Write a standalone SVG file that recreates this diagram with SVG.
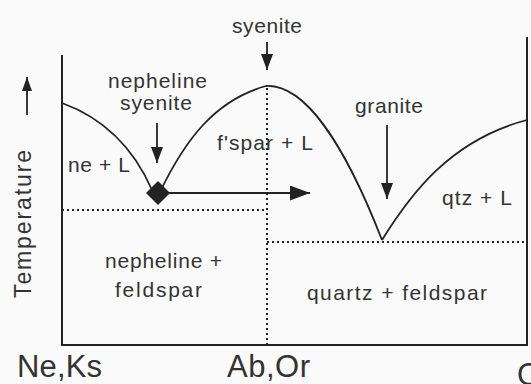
<svg xmlns="http://www.w3.org/2000/svg" width="531" height="384" viewBox="0 0 531 384">
  <style>
    .t { font-family: "Liberation Sans", Arial, sans-serif; fill: #333; }
    .m { font-size: 21px; }
    .b { font-size: 31px; }
    .ax { stroke: #222; stroke-width: 2; fill: none; }
    .cv { stroke: #222; stroke-width: 1.8; fill: none; }
    .dot { stroke: #222; stroke-width: 2; stroke-dasharray: 2 3; fill: none; }
    .ar { stroke: #222; stroke-width: 1.8; fill: none; }
  </style>
  <defs>
    <marker id="head" viewBox="0 0 16 12" refX="16" refY="6" markerWidth="16" markerHeight="12" markerUnits="userSpaceOnUse" orient="auto">
      <path d="M0,0 L16,6 L0,12 z" fill="#222"/>
    </marker>
    <marker id="bighead" viewBox="0 0 20 15" refX="20" refY="7.5" markerWidth="20" markerHeight="15" markerUnits="userSpaceOnUse" orient="auto">
      <path d="M0,0 L20,7.5 L0,15 z" fill="#222"/>
    </marker>
    <marker id="smallhead" viewBox="0 0 14 10" refX="14" refY="5" markerWidth="14" markerHeight="10" markerUnits="userSpaceOnUse" orient="auto">
      <path d="M0,0 L14,5 L0,10 z" fill="#222"/>
    </marker>
  </defs>
  <rect width="531" height="384" fill="#fafafa"/>

  <g id="axes">
    <path class="ax" d="M62,55 L62,345 L527,345 L527,37"/>
  </g>

  <g id="phase-boundaries">
    <path class="cv" d="M62,103 C95,115 130,140 152,190"/>
    <path class="cv" d="M160,192 C185,140 215,100 266,86"/>
    <path class="cv" d="M266,86 C305,84 345,145 382,240"/>
    <path class="cv" d="M382,240 C410,195 450,140 527,120"/>
    <path class="dot" d="M62,210 L267,210"/>
    <path class="dot" d="M267,88 L267,345"/>
    <path class="dot" d="M267,242 L527,242"/>
  </g>

  <g id="eutectic-point">
    <polygon points="158,181 170,193 158,205 146,193" fill="#222"/>
  </g>

  <g id="connectors">
    <line class="ar" x1="267" y1="42" x2="267" y2="70" marker-end="url(#head)"/>
    <line class="ar" x1="157" y1="123" x2="157" y2="163" marker-end="url(#head)"/>
    <line class="ar" x1="387" y1="125" x2="387" y2="199" marker-end="url(#head)"/>
    <line class="ar" x1="168" y1="193" x2="310" y2="193" marker-end="url(#bighead)"/>
    <line class="ar" x1="27" y1="115" x2="27" y2="77" marker-end="url(#smallhead)"/>
  </g>

  <g id="label-syenite"><text class="t m" x="232" y="33" textLength="70" lengthAdjust="spacing">syenite</text></g>
  <g id="label-nepheline-syenite">
    <text class="t m" x="108" y="88" textLength="99" lengthAdjust="spacing">nepheline</text>
    <text class="t m" x="120" y="110" textLength="72" lengthAdjust="spacing">syenite</text>
  </g>
  <g id="label-ne-L"><text class="t m" x="68" y="172" textLength="62" lengthAdjust="spacing">ne + L</text></g>
  <g id="label-fspar-L"><text class="t m" x="217" y="150" textLength="96" lengthAdjust="spacing">f'spar + L</text></g>
  <g id="label-granite"><text class="t m" x="355" y="113" textLength="68" lengthAdjust="spacing">granite</text></g>
  <g id="label-qtz-L"><text class="t m" x="442" y="205" textLength="70" lengthAdjust="spacing">qtz + L</text></g>
  <g id="label-ne-fsp">
    <text class="t m" x="105" y="268" textLength="117" lengthAdjust="spacing">nepheline +</text>
    <text class="t m" x="115" y="297" textLength="87" lengthAdjust="spacing">feldspar</text>
  </g>
  <g id="label-qtz-fsp"><text class="t m" x="307" y="300" textLength="180" lengthAdjust="spacing">quartz  +  feldspar</text></g>
  <g id="label-temperature"><text class="t" font-size="23" x="0" y="0" transform="translate(31,224) rotate(-90)" text-anchor="middle" textLength="148" lengthAdjust="spacing">Temperature</text></g>
  <g id="label-NeKs"><text class="t b" x="17" y="377" textLength="85" lengthAdjust="spacing">Ne,Ks</text></g>
  <g id="label-AbOr"><text class="t b" x="227" y="377" textLength="83" lengthAdjust="spacing">Ab,Or</text></g>
  <g id="label-Q"><text class="t b" x="517" y="385">Q</text></g>
</svg>
